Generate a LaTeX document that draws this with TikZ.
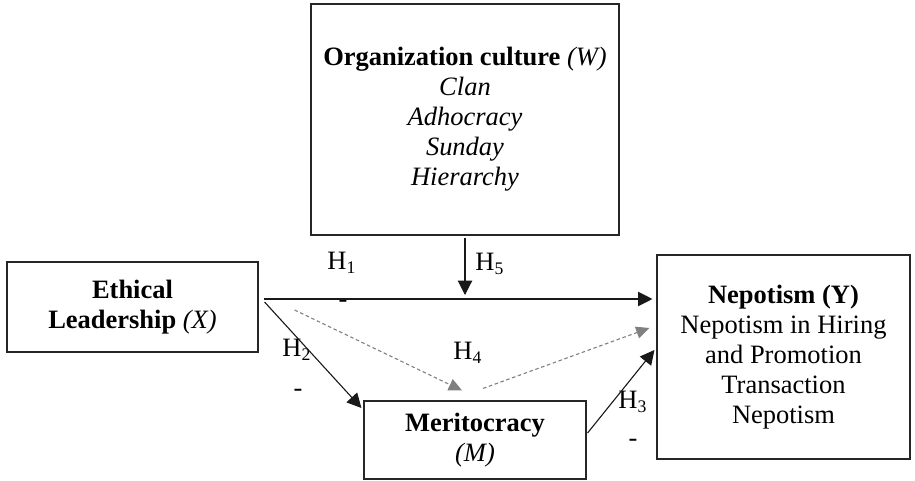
\documentclass[tikz,border=0pt]{standalone}
\usepackage{fontspec}
\setmainfont{Liberation Serif}
\usepackage{tikz}
\usetikzlibrary{arrows.meta,
                calc}
\newcommand{\pxl}{0.453pt}

\begin{document}
\begin{tikzpicture}[x=0.453pt, y=-0.453pt, font=\fontsize{12}{13.6}\selectfont]

\tikzstyle{box1}=[rectangle, draw=black!85, line width=0.5pt, align=center, inner sep=0pt]
\tikzstyle{arrow}=[-{Triangle[length=6.5pt, width=6.5pt]}, line width=0.5pt, black!90]
\tikzstyle{grayarrow}=[-{Triangle[length=6pt, width=5.5pt]}, line width=0.5pt, gray, dash pattern=on 1.6pt off 1.2pt]
\tikzstyle{hyp}=[inner sep=0pt]

\useasboundingbox (0,0) rectangle (915,481);

\node (W) [box1, minimum width=308*\pxl, minimum height=231*\pxl] at (465,119.5) {\textbf{Organization culture} \textit{(W)} \\
       \textit{Clan} \\
       \textit{Adhocracy} \\
       \textit{Sunday} \\
       \textit{Hierarchy}};

\node (X) [box1, minimum width=251*\pxl, minimum height=90*\pxl] at (132.5,307) {\textbf{Ethical} \\
       \textbf{Leadership} \textit{(X)}};

\node (Y) [box1, minimum width=253*\pxl, minimum height=204*\pxl] at (783.5,357) {\textbf{Nepotism (Y)} \\
       Nepotism in Hiring \\
       and Promotion \\
       Transaction \\
       Nepotism};

\node (M) [box1, minimum width=222*\pxl, minimum height=78*\pxl] at (475,440) {\textbf{Meritocracy} \\
       \textit{(M)}};

% hypothesis labels
\node (H1) [hyp] at (342,263) {H\textsubscript{1}};
\node (H1s) [hyp] at (343,304) {-};
\node (H2) [hyp] at (297,350) {H\textsubscript{2}};
\node (H2s) [hyp] at (298,393) {-};
\node (H3) [hyp] at (633,402) {H\textsubscript{3}};
\node (H3s) [hyp] at (633,443) {-};
\node (H4) [hyp] at (468,353) {H\textsubscript{4}};
\node (H5) [hyp] at (490,264) {H\textsubscript{5}};

\coordinate (mod) at (465,295);

\draw [arrow] ($(X.east)+(5,-8)$) -- ($(Y.west)+(-4,-58)$);
\draw [arrow] ($(W.south)+(0,2)$) -- (mod);
\draw [arrow] ($(X.east)+(6,-5)$) -- ($(M.west)+(-2,-32)$);
\draw [arrow] ($(M.east)+(1,-7)$) -- ($(Y.west)+(-2,-7)$);
\draw [grayarrow] ($(X.east)+(36,3)$) -- ($(M.north)+(-13,-10)$);
\draw [grayarrow] ($(M.north)+(8,-12)$) -- ($(Y.west)+(-7,-29)$);

\end{tikzpicture}
\end{document}
